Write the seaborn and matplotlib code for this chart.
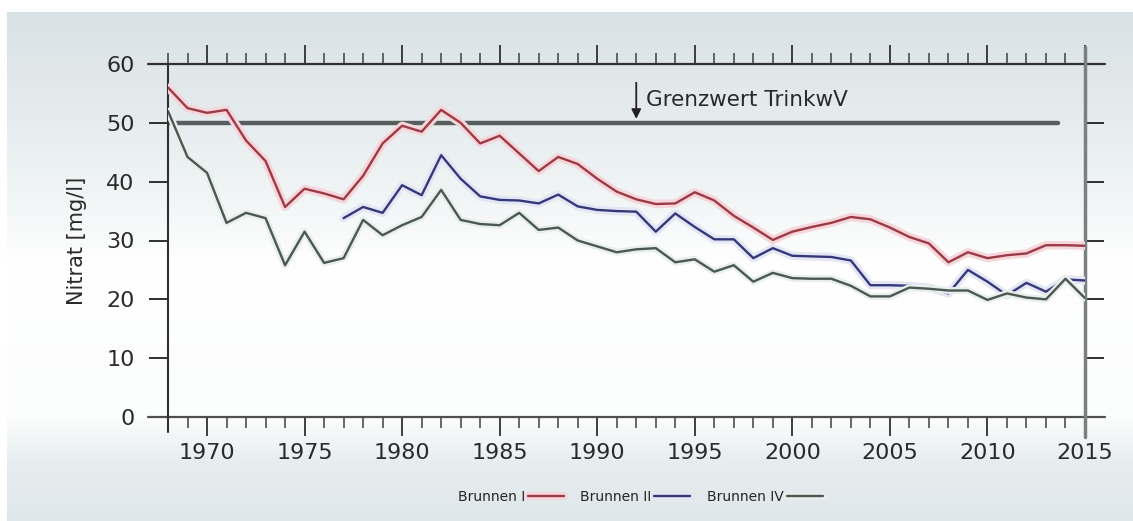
import numpy as np
import pandas as pd
import seaborn as sns
import matplotlib
matplotlib.use("Agg")
import matplotlib.pyplot as plt
from matplotlib.ticker import MultipleLocator
import matplotlib.patheffects as pe

# Nitrat-Werte je Brunnen (mg/l)
years_1 = list(range(1968, 2016))
brunnen_1 = [56, 52.5, 51.7, 52.2, 47, 43.5, 35.7, 38.8, 38, 37,
             41, 46.5, 49.5, 48.5, 52.2, 50, 46.5, 47.8, 44.8, 41.8,
             44.2, 43, 40.5, 38.3, 37, 36.2, 36.3, 38.2, 36.8, 34.2,
             32.2, 30.1, 31.5, 32.3, 33, 34, 33.6, 32.2, 30.6, 29.5,
             26.3, 28, 27, 27.5, 27.8, 29.2, 29.2, 29.1]

years_2 = list(range(1977, 2016))
brunnen_2 = [33.8, 35.7, 34.7, 39.4, 37.7, 44.5, 40.5, 37.5, 36.9, 36.8,
             36.3, 37.8, 35.8, 35.2, 35, 34.9, 31.5, 34.6, 32.3, 30.2,
             30.2, 27, 28.7, 27.4, 27.3, 27.2, 26.6, 22.4, 22.4, 22.3,
             22, 21, 25, 23, 20.7, 22.8, 21.3, 23.4, 23.2]

years_4 = list(range(1968, 2016))
brunnen_4 = [52, 44.2, 41.5, 33, 34.7, 33.8, 25.8, 31.5, 26.2, 27,
             33.5, 30.9, 32.6, 34, 38.6, 33.5, 32.8, 32.6, 34.7, 31.8,
             32.2, 30, 29, 28, 28.5, 28.7, 26.3, 26.8, 24.7, 25.8,
             23, 24.5, 23.6, 23.5, 23.5, 22.3, 20.5, 20.5, 22, 21.8,
             21.5, 21.5, 19.9, 21, 20.3, 20, 23.5, 20.2]

grenzwert = 50
grenzwert_end = 2013.6

sns.set_style("white")
plt.rcParams['font.family'] = ['DejaVu Sans']

fig = plt.figure(figsize=(11.33, 5.21), dpi=100)

# Hintergrund mit Verlauf
bg = fig.add_axes([7 / 1133, 0, 1 - 7 / 1133, 509 / 521], zorder=0)
pos = np.array([0.0, 0.15, 0.35, 0.5, 0.8, 0.88, 1.0])
cols = np.array([[216, 226, 229], [226, 233, 235], [240, 244, 245], [255, 255, 255],
                 [252, 253, 253], [232, 238, 240], [222, 231, 234]]) / 255
t = np.linspace(0, 1, 300)
grad = np.stack([np.interp(t, pos, cols[:, i]) for i in range(3)], axis=1)
bg.imshow(grad[:, None, :], aspect='auto', extent=[0, 1, 0, 1])
bg.axis('off')

ax = fig.add_axes([168 / 1133, 1 - 417 / 521, (1085 - 168) / 1133, (417 - 64) / 521], zorder=1)
ax.patch.set_alpha(0)

red = "#9c3a46"
blue = "#34387a"
grey = "#4b5852"

sns.lineplot(x=years_1, y=brunnen_1, ax=ax, color=red, lw=1.7, label="Brunnen I", zorder=3,
             path_effects=[pe.withStroke(linewidth=6, foreground="#f5d6db")])
sns.lineplot(x=years_2, y=brunnen_2, ax=ax, color=blue, lw=1.7, label="Brunnen II", zorder=3,
             path_effects=[pe.withStroke(linewidth=6, foreground="#e5e6f4")])
sns.lineplot(x=years_4, y=brunnen_4, ax=ax, color=grey, lw=1.7, label="Brunnen IV", zorder=3,
             path_effects=[pe.withStroke(linewidth=5, foreground="#e8eeeb")])

# Grenzwert Trinkwasserverordnung
ax.plot([1968, grenzwert_end], [grenzwert, grenzwert], color="#585e5e", lw=3.2, zorder=2)
ax.annotate("", xy=(1992, 50.2), xytext=(1992, 57.3),
            arrowprops=dict(arrowstyle="-|>", color="#222222", lw=1.3, mutation_scale=14))
ax.text(1992.5, 53.9, "Grenzwert TrinkwV", fontsize=15.5, color="#2a2a2a", va="center", ha="left")

# Achsenlinien (verlängert)
ax.plot([1966.97, 2016.03], [60, 60], color="#303030", lw=1.6, clip_on=False)
ax.plot([1966.97, 2016.03], [0, 0], color="#505050", lw=1.6, clip_on=False)
ax.plot([1968, 1968], [60, -2.6], color="#303030", lw=1.5, clip_on=False)
ax.plot([2015, 2015], [62.9, -3.4], color="#7a7f80", lw=2.5, clip_on=False)
for s in ax.spines.values():
    s.set_visible(False)

ax.set_xlim(1968, 2015)
ax.set_ylim(0, 60)
ax.set_xticks(range(1970, 2016, 5))
ax.xaxis.set_minor_locator(MultipleLocator(1))
ax.set_yticks(range(0, 61, 10))
ax.tick_params(axis='x', which='major', direction='out', length=14, width=1.3, color="#303030",
               top=True, bottom=True, labeltop=False, labelsize=16, labelcolor="#2a2a2a", pad=5)
ax.tick_params(axis='x', which='minor', direction='out', length=8, width=1.1, color="#404040",
               top=True, bottom=True)
ax.tick_params(axis='y', which='major', direction='out', length=14, width=1.4, color="#303030",
               left=True, right=True, labelright=False, labelsize=16, labelcolor="#2a2a2a", pad=10)
ax.set_xlabel("")
ax.set_ylabel("Nitrat [mg/l]", fontsize=15, color="#2a2a2a", labelpad=14)

handles, labels = ax.get_legend_handles_labels()
ax.legend_.remove()
fig.legend(handles, labels, loc="center", bbox_to_anchor=(0.565, 0.046), ncol=3,
           markerfirst=False, frameon=False, fontsize=10, handlelength=2.6,
           handletextpad=0.2, columnspacing=1.2)

fig.savefig("out.png", dpi=100)
